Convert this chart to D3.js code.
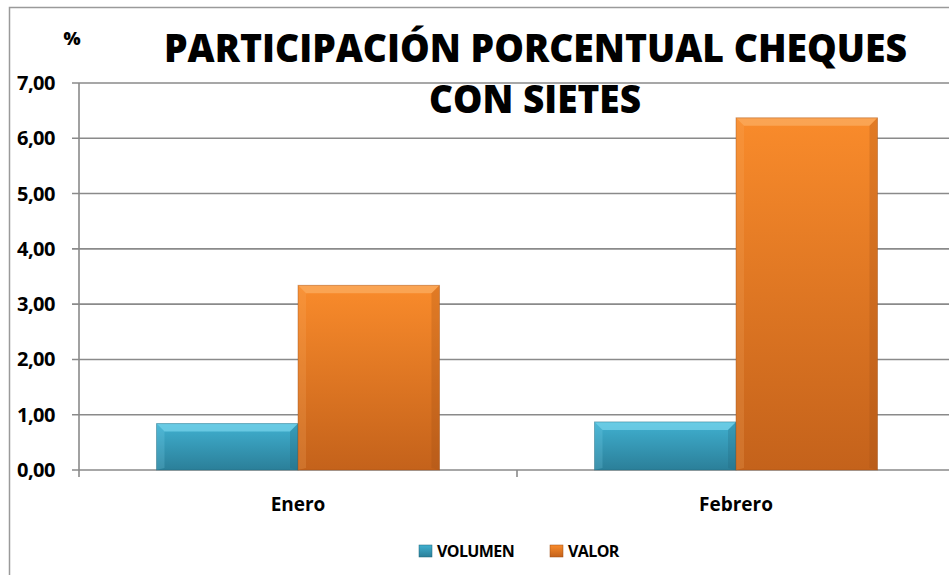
<!DOCTYPE html>
<html>
<head>
<meta charset="utf-8">
<script src="https://cdn.jsdelivr.net/npm/d3@7"></script>
<style>
  body { margin: 0; background: #fff; }
  text { font-family: "Open Sans", Lato, sans-serif; font-weight: bold; fill: #000; }
</style>
</head>
<body>
<div id="chart"></div>
<script>
// Data
const categories = ["Enero", "Febrero"];
const seriesNames = ["VOLUMEN", "VALOR"];
const volumen = [0.84, 0.87];
const valor = [3.34, 6.37];
const yTicks = [0, 1, 2, 3, 4, 5, 6, 7];

const W = 949, H = 575;
const margin = { top: 83, left: 79, bottom: 105 };
const plotRight = 955;
const height = H - margin.top - margin.bottom;

const svg = d3.select("#chart")
              .append("svg")
              .attr("width", W)
              .attr("height", H);

// gradients for the bars
const defs = svg.append("defs");
const colors = {
    VOLUMEN: { top: "#40b0d0", bottom: "#2b7f99", light: "#86def4", dark: "#1f6478" },
    VALOR:   { top: "#f98b2b", bottom: "#c4621b", light: "#fcb56e", dark: "#9a4c14" }
};
seriesNames.forEach(name => {
    const g = defs.append("linearGradient")
                  .attr("id", "grad-" + name)
                  .attr("x1", 0).attr("y1", 0).attr("x2", 0).attr("y2", 1);
    g.append("stop").attr("offset", "0%").attr("stop-color", colors[name].top);
    g.append("stop").attr("offset", "100%").attr("stop-color", colors[name].bottom);
});

// outer frame
svg.append("rect")
   .attr("x", 9.5).attr("y", 7.5)
   .attr("width", 960).attr("height", 600)
   .attr("fill", "none")
   .attr("stroke", "#9a9a9a")
   .attr("stroke-width", 1.5);

const x0 = d3.scaleBand()
             .domain(categories)
             .range([margin.left, plotRight])
             .paddingInner(0)
             .paddingOuter(0);

const groupPad = 77.5;
const x1 = d3.scaleBand()
             .domain(seriesNames)
             .range([groupPad, x0.bandwidth() - groupPad]);

const y = d3.scaleLinear()
            .domain([0, 7])
            .range([margin.top + height, margin.top]);

// gridlines
svg.append("g")
   .selectAll("line")
   .data(yTicks)
   .join("line")
   .attr("x1", margin.left - 7)
   .attr("x2", plotRight)
   .attr("y1", d => y(d))
   .attr("y2", d => y(d))
   .attr("stroke", "#8a8a8a")
   .attr("stroke-width", 1.6);

// y axis line
svg.append("line")
   .attr("x1", margin.left).attr("x2", margin.left)
   .attr("y1", y(7)).attr("y2", y(0) + 7)
   .attr("stroke", "#8a8a8a").attr("stroke-width", 1.6);

// category separator ticks
svg.append("g")
   .selectAll("line")
   .data(categories.slice(1))
   .join("line")
   .attr("x1", d => x0(d)).attr("x2", d => x0(d))
   .attr("y1", y(0)).attr("y2", y(0) + 7)
   .attr("stroke", "#8a8a8a").attr("stroke-width", 1.6);

// y tick labels
svg.append("g")
   .selectAll("text")
   .data(yTicks)
   .join("text")
   .attr("x", 55)
   .attr("y", d => y(d) + 7)
   .attr("text-anchor", "end")
   .style("font-size", "20px")
   .style("letter-spacing", "-0.5px")
   .text(d => d3.format(".2f")(d).replace(".", ","));

// "%" label
svg.append("text")
   .attr("x", 72).attr("y", 45)
   .attr("text-anchor", "middle")
   .style("font-size", "18px")
   .style("font-weight", 800)
   .text("%");

// bars
const rows = categories.map((c, i) => ({ cat: c, VOLUMEN: volumen[i], VALOR: valor[i] }));
rows.forEach(row => {
    seriesNames.forEach(name => {
        const bx = x0(row.cat) + x1(name);
        const bw = x1.bandwidth();
        const by = y(row[name]);
        const bh = y(0) - by;
        const g = svg.append("g");
        g.append("rect")
         .attr("x", bx).attr("y", by)
         .attr("width", bw).attr("height", bh)
         .attr("fill", "url(#grad-" + name + ")");
        // bevel: light top strip, soft sides
        const b = 8;
        g.append("path")
         .attr("d", `M${bx},${by} L${bx + bw},${by} L${bx + bw - b},${by + b} L${bx + b},${by + b} Z`)
         .attr("fill", colors[name].light).attr("opacity", 0.6);
        g.append("path")
         .attr("d", `M${bx},${by} L${bx + b},${by + b} L${bx + b},${by + bh - 2} L${bx},${by + bh} Z`)
         .attr("fill", colors[name].light).attr("opacity", 0.2);
        g.append("path")
         .attr("d", `M${bx + bw},${by} L${bx + bw - b},${by + b} L${bx + bw - b},${by + bh - 2} L${bx + bw},${by + bh} Z`)
         .attr("fill", colors[name].dark).attr("opacity", 0.25);
        g.append("rect")
         .attr("x", bx).attr("y", by)
         .attr("width", bw).attr("height", bh)
         .attr("fill", "none")
         .attr("stroke", colors[name].dark)
         .attr("stroke-opacity", 0.4)
         .attr("stroke-width", 1);
    });
});

// category labels
svg.append("g")
   .selectAll("text")
   .data(categories)
   .join("text")
   .attr("x", d => x0(d) + x0.bandwidth() / 2)
   .attr("y", 511)
   .attr("text-anchor", "middle")
   .style("font-size", "19px")
   .text(d => d);

// title
const title = svg.append("text")
                 .attr("text-anchor", "middle")
                 .style("font-size", "39px")
                 .style("font-weight", 800);
title.append("tspan").attr("x", 535.5).attr("y", 62)
     .attr("textLength", 743).attr("lengthAdjust", "spacingAndGlyphs")
     .text("PARTICIPACIÓN PORCENTUAL CHEQUES");
title.append("tspan").attr("x", 535).attr("y", 113)
     .attr("textLength", 212).attr("lengthAdjust", "spacingAndGlyphs")
     .text("CON SIETES");

// legend
const legendX = [419, 550];
const legend = svg.append("g");
seriesNames.forEach((name, i) => {
    legend.append("rect")
          .attr("x", legendX[i]).attr("y", 545)
          .attr("width", 13).attr("height", 12)
          .attr("fill", "url(#grad-" + name + ")")
          .attr("stroke", colors[name].dark)
          .attr("stroke-width", 0.5);
    legend.append("text")
          .attr("x", legendX[i] + 18).attr("y", 557)
          .style("font-size", "16px")
          .style("letter-spacing", "-0.6px")
          .text(name);
});
</script>
</body>
</html>
